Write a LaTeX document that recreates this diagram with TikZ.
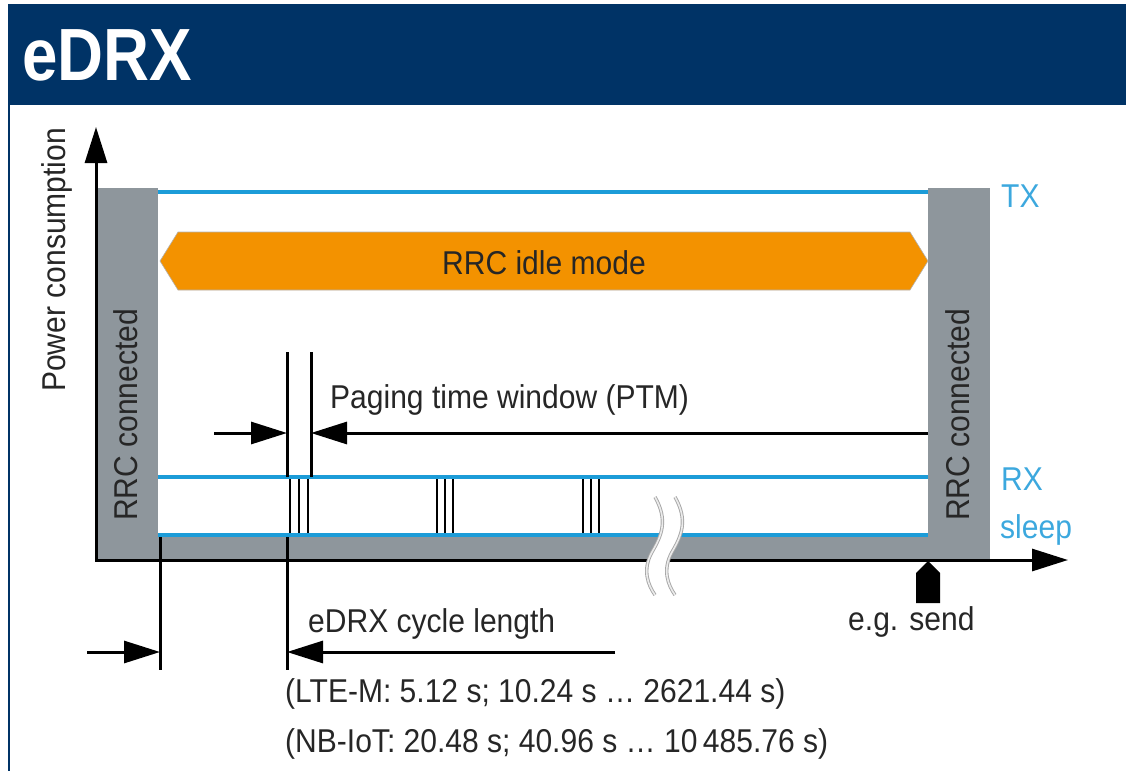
\documentclass[tikz,border=0pt]{standalone}
\usepackage{fontspec}
\setmainfont{Liberation Sans}[FakeStretch=0.91]
\newfontfamily\titlefont{Liberation Sans}[FakeStretch=0.86]
\usetikzlibrary{arrows.meta}
\definecolor{rsnavy}{RGB}{0,51,102}
\definecolor{rsblue}{RGB}{28,156,216}
\definecolor{rslabel}{RGB}{60,168,222}
\definecolor{rsgray}{RGB}{142,150,156}
\definecolor{rsorange}{RGB}{243,146,0}
\begin{document}
\begin{tikzpicture}[x=1pt, y=-1pt, >={Triangle[length=36pt, width=22pt]},
    txt/.style={inner sep=0pt, text=black!85, font=\fontsize{33}{37}\selectfont},
    lvl/.style={rsblue, line width=4.5pt},
    guide/.style={line width=3pt},
    burst/.style={line width=1.8pt},
    cut/.style={draw=black!35, double=black!8, double distance=1.6pt, line width=0.9pt}]
    \useasboundingbox (0,0) rectangle (1126,771);
    % header
    \fill[rsnavy] (8,4) rectangle (1126,105);
    \draw[rsnavy, line width=2pt] (9,105) -- (9,771);
    \node[txt, anchor=base west, text=white, font={\titlefont\bfseries\fontsize{74}{80}\selectfont}] (title) at (22,80) {eDRX};
    % states
    \fill[rsgray] (97,188) rectangle (158,559);
    \fill[rsgray] (928,188) rectangle (990,559);
    \fill[rsgray] (158,536) rectangle (928,559);
    \foreach \y in {192, 477, 535}
        \draw[lvl] (158,\y) -- (928,\y);
    \filldraw[fill=rsorange, draw=black!30, line width=0.6pt] (160,261) -- (178,232) -- (910,232) -- (928,261) -- (910,290) -- (178,290) -- cycle;
    \node[txt] (idle) at (544,263) {RRC idle mode};
    % axes
    \coordinate (o) at (96,561.5);
    \coordinate (yend) at (96,127);
    \coordinate (xend) at (1068,560);
    \draw[guide, ->] (o) -- (yend);
    \draw[guide, ->] (o |- xend) -- (xend);
    % paging time window
    \coordinate (pw1t) at (287,352);
    \coordinate (pw2t) at (311,352);
    \coordinate (pwa) at (214,433);
    \coordinate (pwb) at (928,433);
    \draw[guide] (pw1t) -- (287,477);
    \draw[guide] (pw2t) -- (311,477);
    \draw[guide, ->] (pwa) -- (pw1t |- pwa);
    \draw[guide, ->] (pwb) -- (pw2t |- pwb);
    \foreach \x in {290, 299, 308, 437, 445, 453, 583, 591, 599}
        \draw[burst] (\x,479) -- (\x,533);
    % eDRX cycle
    \coordinate (c0t) at (160,537);
    \coordinate (c1t) at (287,537);
    \coordinate (ca) at (87,652);
    \coordinate (cb) at (615,652);
    \draw[guide] (c0t) -- (160,670);
    \draw[guide] (c1t) -- (287,670);
    \draw[guide, ->] (ca) -- (c0t |- ca);
    \draw[guide, ->] (cb) -- (c1t |- cb);
    % time break
    \fill[white] (655,497) .. controls (668,520) and (662,535) .. (652,552) .. controls (642,570) and (648,585) .. (655,595)
        -- (675,595) .. controls (668,585) and (662,570) .. (672,552) .. controls (682,535) and (688,520) .. (675,497) -- cycle;
    \foreach \dx in {0, 20}
        \draw[cut, xshift=\dx] (655,497) .. controls (668,520) and (662,535) .. (652,552) .. controls (642,570) and (648,585) .. (655,595);
    % send event
    \fill[black] (928,561) -- (940,573) -- (940,603) -- (916,603) -- (916,573) -- cycle;
    % labels
    \node[txt, anchor=base west, rotate=90] (power) at (65,392) {Power consumption};
    \node[txt, anchor=base west, rotate=90] (rrcL) at (137,521) {RRC connected};
    \node[txt, anchor=base west, rotate=90] (rrcR) at (969,521) {RRC connected};
    \node[txt, anchor=base west, text=rslabel] (tx) at (1001,207) {TX};
    \node[txt, anchor=base west, text=rslabel] (rx) at (1001,490) {RX};
    \node[txt, anchor=base west, text=rslabel] (sleep) at (1000,538) {sleep};
    \node[txt, anchor=base west] (ptw) at (330,408) {Paging time window (PTM)};
    \node[txt, anchor=base west] (cycle) at (308,632) {eDRX cycle length};
    \node[txt, anchor=base west] (send) at (848,630) {e.g. send};
    \node[txt, anchor=base west] (ltem) at (285,702) {(LTE-M: 5.12 s; 10.24 s … 2621.44 s)};
    \node[txt, anchor=base west] (nbiot) at (285,752) {(NB-IoT: 20.48 s; 40.96 s … 10\,485.76 s)};
\end{tikzpicture}
\end{document}
